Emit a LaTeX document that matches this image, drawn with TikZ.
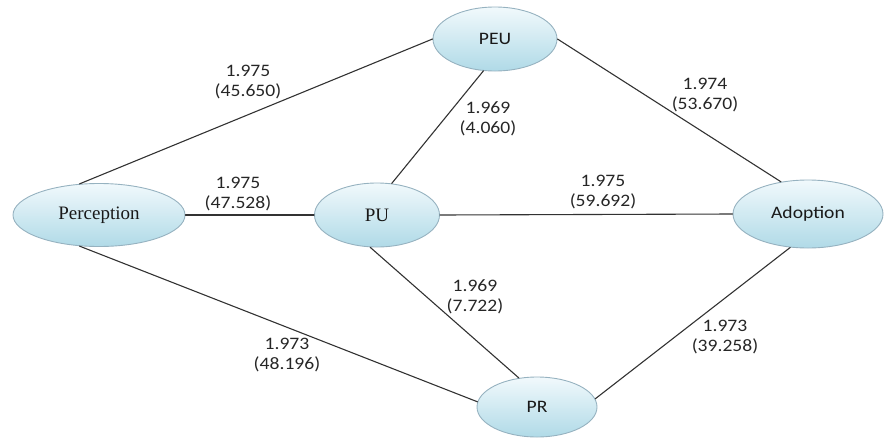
\documentclass[tikz,border=0pt]{standalone}
\usepackage{fontspec}
\usepackage{tikz}
\usetikzlibrary{shapes.geometric, positioning}
\setmainfont{Liberation Serif}
\newfontfamily\calibriface[FakeStretch=1.12]{Carlito}
\definecolor{ovaltop}{RGB}{241, 249, 252}
\definecolor{ovalbottom}{RGB}{176, 218, 231}
\definecolor{ovalrim}{RGB}{150, 178, 192}
\definecolor{linkgray}{RGB}{50, 50, 50}
\tikzset{
	construct/.style={ellipse, draw=ovalrim, line width=0.9pt, top color=ovaltop, bottom color=ovalbottom, inner sep=0pt, text=black!90},
	serifname/.style={construct, font=\rmfamily\fontsize{19}{20}\selectfont},
	sansname/.style={construct, font=\calibriface\fontsize{17.5}{20}\selectfont},
	link/.style={linkgray, line width=1.1pt},
	weight/.style={align=center, font=\calibriface\fontsize{17.5}{20}\selectfont, text=black!85}
}

\begin{document}
\begin{tikzpicture}[line cap=round, line join=round, x=1pt, y=-1pt]

		\useasboundingbox (0,0) rectangle (884,437);

		% constructs
		\node[serifname, minimum width=172pt, minimum height=63pt] (Perception) at (99,215) {Perception};
		\node[sansname, minimum width=124pt, minimum height=64pt] (PEU) at (495,39) {PEU};
		\node[serifname, minimum width=125pt, minimum height=64pt] (PU) at (377,215) {PU};
		\node[sansname, minimum width=150pt, minimum height=68pt] (Adoption) at (808,214) {Adoption};
		\node[sansname, minimum width=120pt, minimum height=60pt] (PR) at (537,407) {PR};

		% paths
		\draw [link] (Perception.122)--(PEU.west);
		\draw [link] (Perception.east)--(PU.west);
		\draw [link] (Perception.238)--(PR.175);
		\draw [link] (PEU.250)--(PU.65);
		\draw [link] (PEU.east)--(Adoption.130);
		\draw [link] (PU.east)--(Adoption.west);
		\draw [link] (PU.258)--(PR.122);
		\draw [link] (PR.8)--(Adoption.242);

		% path weights
		\node[weight] (wPercPEU) at (248,82) {1.975\\(45.650)};
		\node[weight] (wPercPU) at (238,194) {1.975\\(47.528)};
		\node[weight] (wPercPR) at (287,355) {1.973\\(48.196)};
		\node[weight] (wPEUPU) at (488,119) {1.969\\(4.060)};
		\node[weight] (wPEUAdop) at (705,95) {1.974\\(53.670)};
		\node[weight] (wPUAdop) at (603,192) {1.975\\(59.692)};
		\node[weight] (wPUPR) at (475,297) {1.969\\(7.722)};
		\node[weight] (wPRAdop) at (725,337) {1.973\\(39.258)};
    \end{tikzpicture}
\end{document}
